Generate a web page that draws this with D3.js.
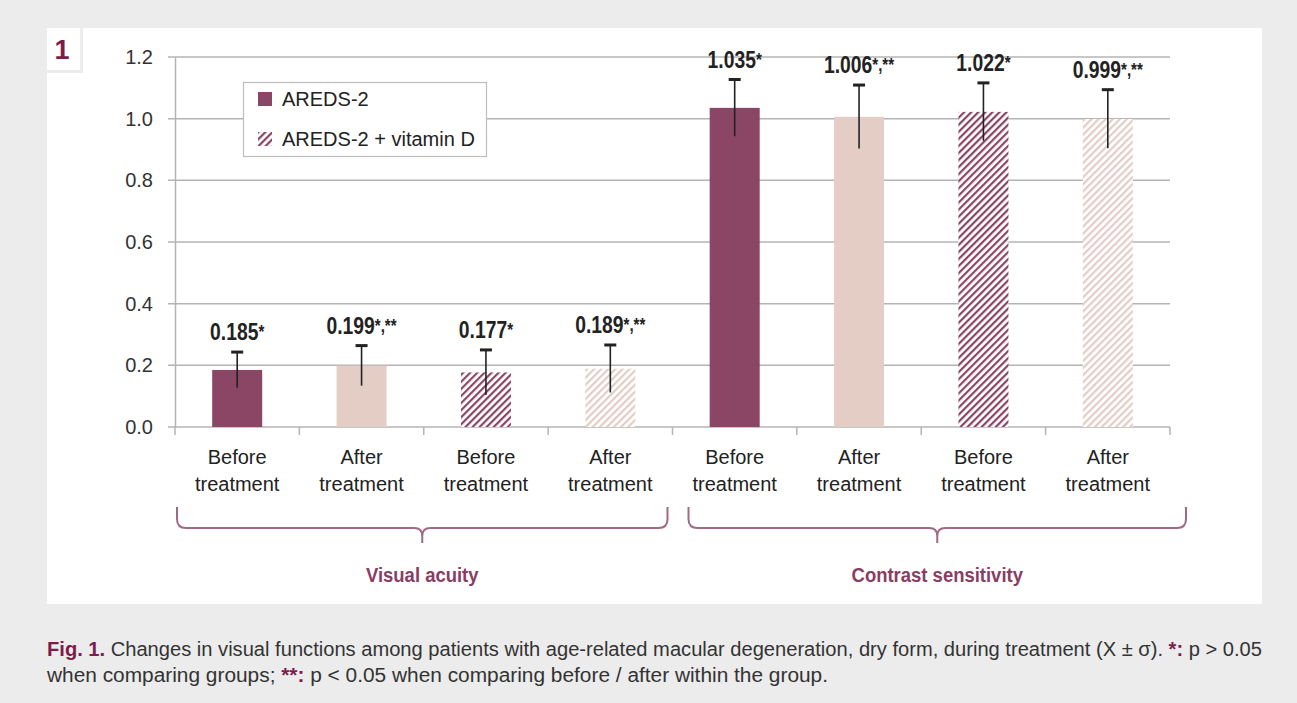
<!DOCTYPE html>
<html>
<head>
<meta charset="utf-8">
<script src="https://cdn.jsdelivr.net/npm/d3@7"></script>
<style>
  body { margin: 0; background: #ececec; }
  svg { display: block; }
</style>
</head>
<body>
<svg id="chart" width="1297" height="703"></svg>
<script>
// data
var categories = ["Before treatment", "After treatment", "Before treatment", "After treatment",
                  "Before treatment", "After treatment", "Before treatment", "After treatment"];
var series = ["AREDS-2", "AREDS-2", "AREDS-2 + vitamin D", "AREDS-2 + vitamin D",
              "AREDS-2", "AREDS-2", "AREDS-2 + vitamin D", "AREDS-2 + vitamin D"];
var values = [0.185, 0.199, 0.177, 0.189, 1.035, 1.006, 1.022, 0.999];
var sds    = [0.058, 0.065, 0.073, 0.077, 0.092, 0.103, 0.094, 0.095];
var marks  = ["*", "*,**", "*", "*,**", "*", "*,**", "*", "*,**"];
var yTicks = [0, 0.2, 0.4, 0.6, 0.8, 1.0, 1.2];
var groupNames = ["Visual acuity", "Contrast sensitivity"];
var legendItems = ["AREDS-2", "AREDS-2 + vitamin D"];

var dark = "#8b4565", light = "#e3cdc5", purple = "#7d1c4c";
var sans = "'Liberation Sans', Arial, sans-serif";

var svg = d3.select("#chart");
var defs = svg.append("defs");

function hatch(id, color) {
  var p = defs.append("pattern")
    .attr("id", id)
    .attr("patternUnits", "userSpaceOnUse")
    .attr("width", 5).attr("height", 5)
    .attr("patternTransform", "rotate(45)");
  p.append("rect").attr("width", 5).attr("height", 5).attr("fill", "#fff");
  p.append("rect").attr("width", 2.2).attr("height", 5).attr("fill", color);
}
hatch("hatchDark", dark);
hatch("hatchLight", light);

function fillFor(i) {
  var before = categories[i].indexOf("Before") === 0;
  var hatched = series[i] !== "AREDS-2";
  if (hatched) return before ? "url(#hatchDark)" : "url(#hatchLight)";
  return before ? dark : light;
}

// panel
svg.append("rect").attr("x", 47).attr("y", 28).attr("width", 1215).attr("height", 576).attr("fill", "#fff");
svg.append("path").attr("d", "M81.5,28V71.5H47").attr("fill", "none").attr("stroke", "#ececec").attr("stroke-width", 3);
svg.append("text").attr("x", 62).attr("y", 59).attr("text-anchor", "middle")
  .attr("font-family", sans).attr("font-weight", "bold")
  .attr("font-size", 27).attr("fill", purple).text("1");

var x = d3.scaleBand().domain(d3.range(values.length)).range([175, 1170]);
var y = d3.scaleLinear().domain([0, 1.2]).range([427, 57]);

// grid
svg.append("g").selectAll("line").data(yTicks).enter().append("line")
  .attr("x1", 168).attr("x2", 1170)
  .attr("y1", function(d) { return y(d); }).attr("y2", function(d) { return y(d); })
  .attr("stroke", "#b4b4b4").attr("stroke-width", 1.5);

// y axis
var yAxis = svg.append("g").attr("transform", "translate(175,0)")
  .call(d3.axisLeft(y).tickValues(yTicks).tickFormat(d3.format(".1f")).tickSize(0).tickPadding(22));
yAxis.select(".domain").attr("stroke", "#b4b4b4").attr("stroke-width", 1.5);
yAxis.selectAll("text").attr("font-family", sans).attr("font-size", 20).attr("fill", "#333");

// x axis ticks at band edges
var edges = d3.range(values.length + 1).map(function(i) { return 175 + i * x.step(); });
svg.append("g").selectAll("line").data(edges).enter().append("line")
  .attr("x1", function(d) { return d; }).attr("x2", function(d) { return d; })
  .attr("y1", 427).attr("y2", 435)
  .attr("stroke", "#b4b4b4").attr("stroke-width", 1.5);

// bars
var bw = 50;
svg.append("g").selectAll("rect").data(values).enter().append("rect")
  .attr("x", function(d, i) { return x(i) + x.bandwidth() / 2 - bw / 2; })
  .attr("width", bw)
  .attr("y", function(d) { return y(d); })
  .attr("height", function(d) { return y(0) - y(d); })
  .attr("fill", function(d, i) { return fillFor(i); });

// error bars
var eb = svg.append("g").selectAll("g").data(values).enter().append("g");
eb.append("line")
  .attr("x1", function(d, i) { return x(i) + x.bandwidth() / 2; })
  .attr("x2", function(d, i) { return x(i) + x.bandwidth() / 2; })
  .attr("y1", function(d, i) { return y(d - sds[i]); })
  .attr("y2", function(d, i) { return y(d + sds[i]); })
  .attr("stroke", "#222").attr("stroke-width", 1.6);
eb.append("line")
  .attr("x1", function(d, i) { return x(i) + x.bandwidth() / 2 - 6; })
  .attr("x2", function(d, i) { return x(i) + x.bandwidth() / 2 + 6; })
  .attr("y1", function(d, i) { return y(d + sds[i]); })
  .attr("y2", function(d, i) { return y(d + sds[i]); })
  .attr("stroke", "#222").attr("stroke-width", 3);

// value labels (condensed look via horizontal squeeze)
var vl = svg.append("g").selectAll("g").data(values).enter().append("g")
  .attr("transform", function(d, i) {
    return "translate(" + (x(i) + x.bandwidth() / 2) + "," + (y(d + sds[i]) - 12) + ") scale(0.84,1)";
  })
  .append("text")
  .attr("text-anchor", "middle")
  .attr("font-family", sans).attr("font-weight", "bold").attr("font-size", 23).attr("fill", "#222");
vl.append("tspan").text(function(d) { return d3.format(".3f")(d); });
vl.append("tspan").attr("font-size", 18).attr("dy", -2).text(function(d, i) { return marks[i]; });

// category labels
var cl = svg.append("g").selectAll("text").data(categories).enter().append("text")
  .attr("text-anchor", "middle")
  .attr("font-family", sans).attr("font-size", 20).attr("fill", "#222");
cl.append("tspan")
  .attr("x", function(d, i) { return x(i) + x.bandwidth() / 2; }).attr("y", 464)
  .text(function(d) { return d.split(" ")[0]; });
cl.append("tspan")
  .attr("x", function(d, i) { return x(i) + x.bandwidth() / 2; }).attr("y", 491)
  .text(function(d) { return d.split(" ")[1]; });

// braces under the two groups
var braceColor = "#a06a84";
var braceEnds = [[x(0) + 2, x(4) - 5], [x(4) + 16, x(7) + x.step() + 16]];
groupNames.forEach(function(name, g) {
  var x0 = braceEnds[g][0], x1 = braceEnds[g][1], cx = (x0 + x1) / 2;
  var top = 507, mid = 528, r = 9;
  var d = "M" + x0 + "," + top + "V" + (mid - r) + "Q" + x0 + "," + mid + " " + (x0 + r) + "," + mid +
          "H" + (cx - 8) + "Q" + cx + "," + mid + " " + cx + "," + (mid + 8) + "V" + 543 +
          "M" + cx + "," + (mid + 8) + "Q" + cx + "," + mid + " " + (cx + 8) + "," + mid +
          "H" + (x1 - r) + "Q" + x1 + "," + mid + " " + x1 + "," + (mid - r) + "V" + top;
  svg.append("path").attr("d", d).attr("fill", "none").attr("stroke", braceColor).attr("stroke-width", 2);
  svg.append("g").attr("transform", "translate(" + cx + ",582) scale(0.88,1)")
    .append("text").attr("text-anchor", "middle")
    .attr("font-family", sans).attr("font-weight", "bold").attr("font-size", 21)
    .attr("fill", "#8a3d62").text(name);
});

// legend
var lg = svg.append("g");
lg.append("rect").attr("x", 243.5).attr("y", 82.5).attr("width", 243).attr("height", 74)
  .attr("fill", "#fff").attr("stroke", "#bdbdbd").attr("stroke-width", 1.2);
legendItems.forEach(function(name, i) {
  lg.append("rect").attr("x", 258).attr("y", 92 + i * 40).attr("width", 14).attr("height", 14)
    .attr("fill", i === 0 ? dark : "url(#hatchDark)");
  lg.append("text").attr("x", 282).attr("y", 106 + i * 40)
    .attr("font-family", sans).attr("font-size", 20).attr("fill", "#222")
    .text(name);
});

// caption
var cap = svg.append("g").attr("font-family", sans).attr("font-size", 20).attr("fill", "#333");
var t1 = cap.append("text").attr("x", 47).attr("y", 656)
  .attr("textLength", 1215).attr("lengthAdjust", "spacingAndGlyphs");
t1.append("tspan").attr("font-weight", "bold").attr("fill", purple).text("Fig. 1.");
t1.append("tspan").text(" Changes in visual functions among patients with age-related macular degeneration, dry form, during treatment (X ± σ). ");
t1.append("tspan").attr("font-weight", "bold").attr("fill", purple).text("*:");
t1.append("tspan").text(" p > 0.05");
var t2 = cap.append("text").attr("x", 47).attr("y", 682)
  .attr("textLength", 781).attr("lengthAdjust", "spacingAndGlyphs");
t2.append("tspan").text("when comparing groups; ");
t2.append("tspan").attr("font-weight", "bold").attr("fill", purple).text("**:");
t2.append("tspan").text(" p < 0.05 when comparing before / after within the group.");
</script>
</body>
</html>
